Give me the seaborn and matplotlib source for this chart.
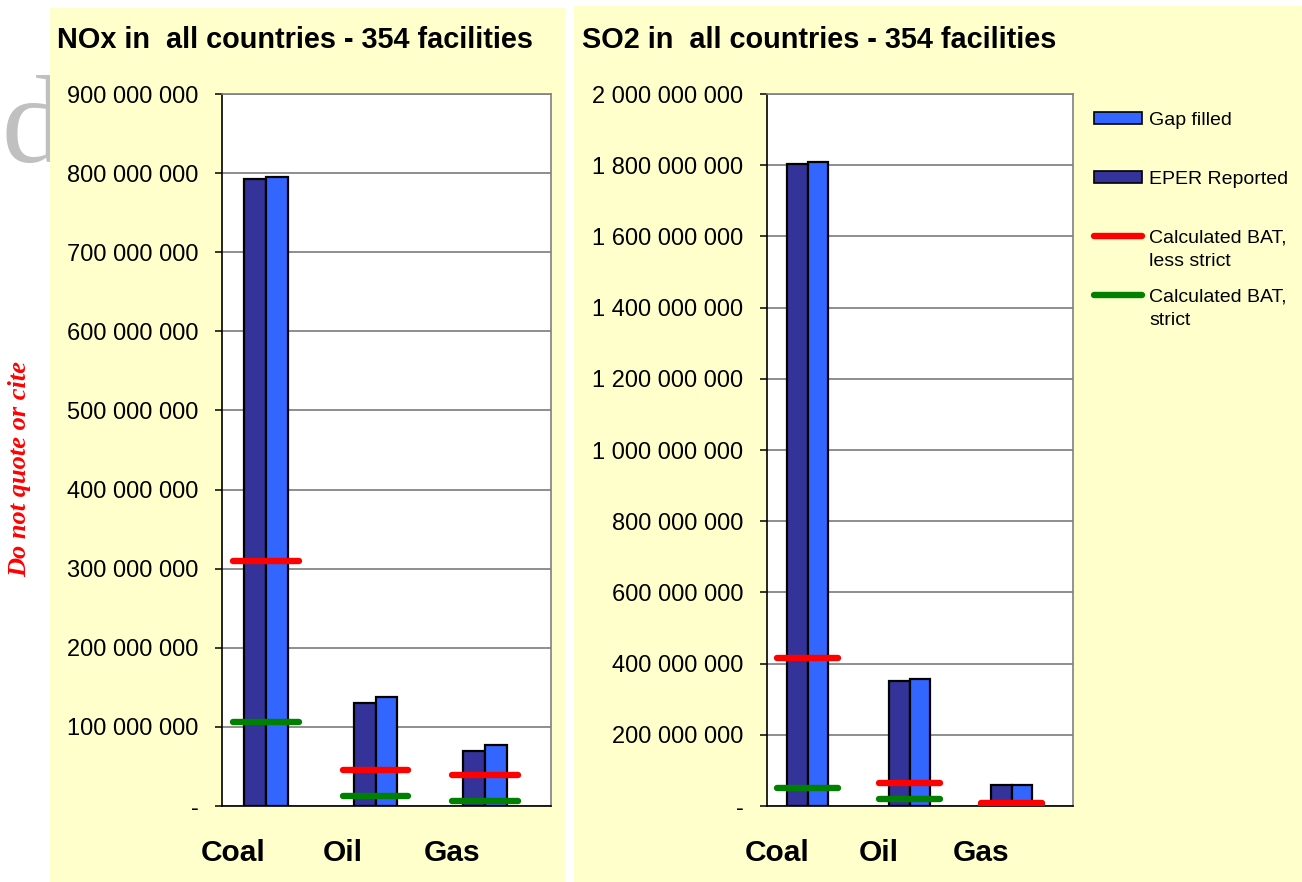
import numpy as np
import pandas as pd
import matplotlib
matplotlib.use("Agg")
import matplotlib.pyplot as plt
import seaborn as sns
from matplotlib.patches import Rectangle, Patch
from matplotlib.lines import Line2D
from matplotlib.legend_handler import HandlerPatch, HandlerLine2D
from matplotlib.ticker import FuncFormatter

# data (tonnes)
fuels = ["Coal", "Oil", "Gas"]
nox_reported = [792e6, 130e6, 70e6]
nox_gap_filled = [795e6, 138e6, 77e6]
nox_bat_less = [310e6, 46e6, 39e6]
nox_bat_strict = [106e6, 13e6, 6e6]

so2_reported = [1803e6, 352e6, 60e6]
so2_gap_filled = [1810e6, 358e6, 60e6]
so2_bat_less = [415e6, 65e6, 8e6]
so2_bat_strict = [50e6, 19e6, 2e6]

DARK = "#333399"
LIGHT = "#3366FF"
RED = "#FF0000"
GREEN = "#008000"
PANEL = "#FFFFCC"

sns.set_style("white")
plt.rcParams["font.family"] = ["Liberation Sans", "DejaVu Sans"]
for key in ["text.color", "axes.labelcolor", "xtick.color", "ytick.color"]:
    plt.rcParams[key] = "black"

W, H = 1302, 882
fig = plt.figure(figsize=(W / 100, H / 100), dpi=100)
fig.patch.set_facecolor("white")


def px_rect(x0, y0, x1, y1):
    return [x0 / W, 1 - y1 / H, (x1 - x0) / W, (y1 - y0) / H]


# yellow panels and watermark behind them
fig.text(2 / W, 1 - 162 / H, "d", fontsize=90, color="#C0C0C0",
         family="Liberation Serif", va="baseline", ha="left", zorder=-2)
for x0, y0, x1 in [(50, 8, 565), (574, 6, 1302)]:
    fig.add_artist(Rectangle((x0 / W, 0), (x1 - x0) / W, 1 - y0 / H,
                             transform=fig.transFigure, facecolor=PANEL,
                             edgecolor="none", zorder=-1))

fig.text(20 / W, 1 - 469 / H, "Do not quote or cite", rotation=90,
         color="red", fontsize=19, family="Liberation Serif",
         fontweight="bold", fontstyle="italic", ha="center", va="center")


def fmt(v, _):
    if v == 0:
        return "-"
    return f"{int(round(v)):,}".replace(",", " ")


def draw(ax, reported, gap_filled, bat_less, bat_strict, ymax, ystep):
    slots = []
    for i in range(len(fuels)):
        slots += [5 * i + 1, 5 * i + 2]
    df = pd.DataFrame({
        "slot": slots,
        "value": [v for pair in zip(reported, gap_filled) for v in pair],
        "series": ["EPER Reported", "Gap filled"] * len(fuels),
    })
    sns.barplot(data=df, x="slot", y="value", hue="series",
                order=list(range(15)), dodge=False, width=1.0,
                palette={"EPER Reported": DARK, "Gap filled": LIGHT},
                saturation=1, edgecolor="black", linewidth=1.6,
                errorbar=None, legend=False, ax=ax, zorder=2)
    for i in range(len(fuels)):
        xs = [5 * i, 5 * i + 3]
        ax.plot(xs, [bat_less[i]] * 2, color=RED, lw=4.6,
                solid_capstyle="round", zorder=4)
        ax.plot(xs, [bat_strict[i]] * 2, color=GREEN, lw=4.6,
                solid_capstyle="round", zorder=3)

    ax.set_facecolor("white")
    ax.set_xlim(-0.5, 14.5)
    ax.set_ylim(0, ymax)
    ax.set_yticks(np.arange(0, ymax + 1, ystep))
    ax.yaxis.set_major_formatter(FuncFormatter(fmt))
    ax.yaxis.grid(True, color="#707070", lw=1.1, zorder=0)
    ax.set_axisbelow(True)
    ax.set_xticks([0, 5, 10], fuels)
    ax.set_xticks(np.arange(-0.5, 15, 1), minor=True)
    ax.tick_params(axis="x", which="major", length=0, pad=24,
                   labelsize=21.5)
    for t in ax.get_xticklabels():
        t.set_fontweight("bold")
    ax.tick_params(axis="x", which="minor", direction="out", length=7,
                   width=1.1, color="black")
    ax.tick_params(axis="y", direction="out", length=5, width=1.1,
                   pad=12, labelsize=17, left=True, color="black")
    ax.set_xlabel("")
    ax.set_ylabel("")
    for side in ["top", "right"]:
        ax.spines[side].set_visible(True)
        ax.spines[side].set_color("#808080")
        ax.spines[side].set_linewidth(1.2)
    for side in ["left", "bottom"]:
        ax.spines[side].set_color("black")
        ax.spines[side].set_linewidth(1.2)


ax1 = fig.add_axes(px_rect(222, 94, 551, 806))
draw(ax1, nox_reported, nox_gap_filled, nox_bat_less, nox_bat_strict,
     900e6, 100e6)
ax2 = fig.add_axes(px_rect(767, 94, 1073, 806))
draw(ax2, so2_reported, so2_gap_filled, so2_bat_less, so2_bat_strict,
     2000e6, 200e6)

fig.text(57 / W, 1 - 48 / H, "NOx in  all countries - 354 facilities",
         fontsize=20.8, fontweight="bold", va="baseline", ha="left")
fig.text(582 / W, 1 - 48 / H, "SO2 in  all countries - 354 facilities",
         fontsize=20.8, fontweight="bold", va="baseline", ha="left")


# legend: every label is two lines tall, handle raised to the first line
LIFT = 9.9  # points


class RaisedPatch(HandlerPatch):
    def create_artists(self, legend, orig_handle, xdescent, ydescent,
                       width, height, fontsize, trans):
        return super().create_artists(legend, orig_handle, xdescent,
                                      ydescent - LIFT, width, height,
                                      fontsize, trans)


class RaisedLine(HandlerLine2D):
    def create_artists(self, legend, orig_handle, xdescent, ydescent,
                       width, height, fontsize, trans):
        return super().create_artists(legend, orig_handle, xdescent,
                                      ydescent - 2 * LIFT, width, height,
                                      fontsize, trans)


handles = [
    Patch(facecolor=LIGHT, edgecolor="black", linewidth=1.2),
    Patch(facecolor=DARK, edgecolor="black", linewidth=1.2),
    Line2D([], [], color=RED, lw=4.6, solid_capstyle="round"),
    Line2D([], [], color=GREEN, lw=4.6, solid_capstyle="round"),
]
labels = ["Gap filled\n ", "EPER Reported\n ",
          "Calculated BAT,\nless strict", "Calculated BAT,\nstrict"]
leg = fig.legend(handles, labels, loc="upper left",
                 bbox_to_anchor=(1086 / W, 1 - 104 / H), frameon=False,
                 fontsize=14, handlelength=2.5, handleheight=0.6,
                 handletextpad=0.35, labelspacing=0.95, borderaxespad=0,
                 handler_map={Patch: RaisedPatch(), Line2D: RaisedLine()})
for t in leg.get_texts():
    t.set_linespacing(1.5)

fig.savefig("out.png", dpi=100)
